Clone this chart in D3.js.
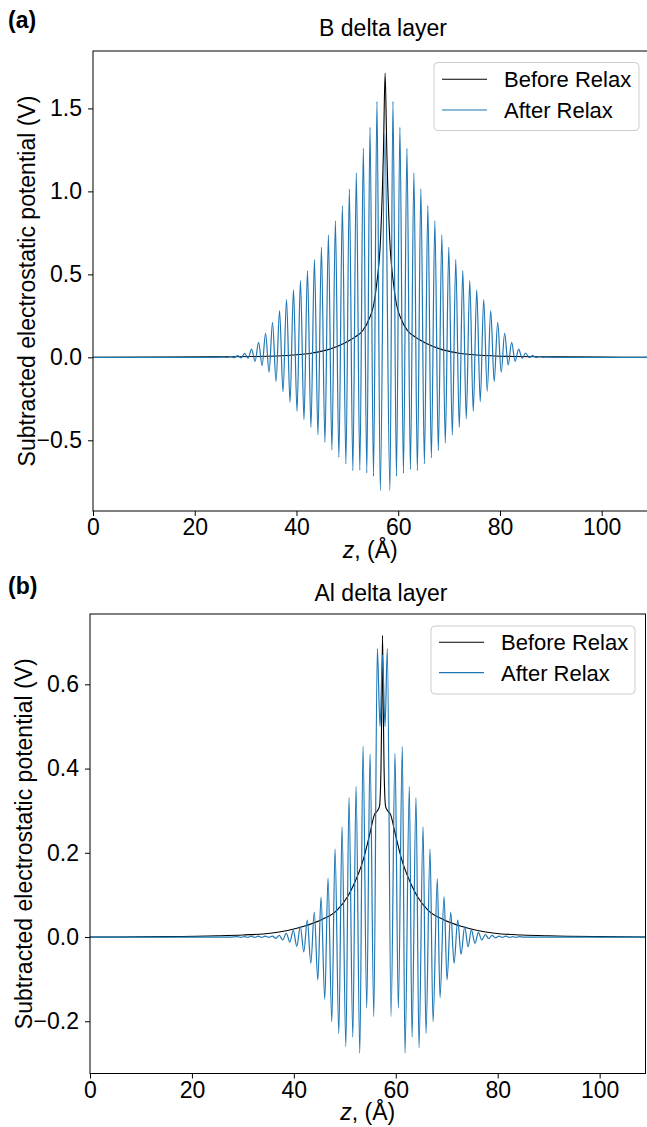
<!DOCTYPE html>
<html>
<head>
<meta charset="utf-8">
<script src="https://cdn.jsdelivr.net/npm/d3@7"></script>
<style>
  body { margin: 0; background: #fff; }
  svg text { font-family: "Liberation Sans", Arial, Helvetica, sans-serif; fill: #000; }
</style>
</head>
<body>
<svg id="fig" width="647" height="1127"></svg>
<script>
// ---------- data ----------
const zDomain = [0, 109];
const xTicks = [0, 20, 40, 60, 80, 100];
const yTicksB = [-0.5, 0.0, 0.5, 1.0, 1.5];
const yTicksAl = [-0.2, 0.0, 0.2, 0.4, 0.6];
const seriesNames = ["Before Relax", "After Relax"];

// B delta layer, before relaxation
const bBeforeZ = [0, 15, 25, 32, 39.4, 43.4, 46.4, 49.4, 51.4, 53.0, 54.4, 55.2, 55.8, 56.5, 57.1, 57.42,
  57.75, 58.35, 59.05, 59.65, 60.45, 61.85, 63.45, 65.45, 68.45, 71.45, 75.45, 82.8, 90, 100, 109];
const bBeforeV = [0, 0.001, 0.003, 0.005, 0.014, 0.028, 0.048, 0.085, 0.12, 0.16, 0.24, 0.32, 0.45, 0.70, 1.25, 1.713,
  1.25, 0.70, 0.45, 0.32, 0.24, 0.16, 0.12, 0.085, 0.048, 0.028, 0.014, 0.005, 0.003, 0.001, 0];

// B delta layer, after relaxation (successive extrema of the oscillation)
const bAfterZ = [0, 24.0, 25.69, 26.37, 27.06, 27.75, 28.43, 29.12, 29.80, 30.49, 31.18, 31.86, 32.55, 33.24,
  33.92, 34.61, 35.29, 35.98, 36.67, 37.35, 38.04, 38.73, 39.41, 40.10, 40.78, 41.47, 42.16, 42.84, 43.53,
  44.22, 44.90, 45.59, 46.27, 46.96, 47.65, 48.33, 49.02, 49.71, 50.39, 51.08, 51.76, 52.45, 53.14, 53.82,
  54.45, 55.14, 55.82, 56.47, 57.38, 58.37, 58.96, 59.65, 60.33, 61.02, 61.71, 62.39, 63.08, 63.76, 64.45,
  65.14, 65.82, 66.51, 67.20, 67.88, 68.57, 69.25, 69.94, 70.63, 71.31, 72.00, 72.69, 73.37, 74.06, 74.75,
  75.43, 76.12, 76.80, 77.49, 78.18, 78.86, 79.55, 80.24, 80.92, 81.61, 82.29, 82.98, 83.67, 84.35, 85.04,
  85.73, 86.41, 87.10, 87.75, 88.44, 89.12, 91, 109];
const bAfterV = [0, 0, 0.002, -0.001, 0.004, -0.002, 0.010, -0.003, 0.024, -0.006, 0.050, -0.024, 0.090, -0.050,
  0.145, -0.090, 0.211, -0.145, 0.281, -0.207, 0.348, -0.271, 0.408, -0.325, 0.462, -0.375, 0.522, -0.422, 0.589,
  -0.466, 0.663, -0.512, 0.737, -0.558, 0.823, -0.602, 0.914, -0.642, 1.014, -0.683, 1.111, -0.679, 1.259, -0.697,
  1.386, -0.717, 1.542, -0.803, 1.346, -0.803, 1.542, -0.717, 1.386, -0.699, 1.259, -0.677, 1.111, -0.682, 1.014,
  -0.642, 0.914, -0.606, 0.823, -0.562, 0.737, -0.516, 0.663, -0.468, 0.589, -0.422, 0.524, -0.371, 0.462, -0.325,
  0.408, -0.267, 0.348, -0.205, 0.281, -0.145, 0.211, -0.090, 0.145, -0.046, 0.090, -0.024, 0.050, -0.006, 0.026,
  -0.002, 0.010, -0.001, 0.004, 0, 0.002, 0, 0];

// Al delta layer, before relaxation
const alBeforeZ = [0, 15, 25, 30, 35.4, 41.8, 45.2, 48.5, 50.5, 51.7, 53.7, 55.0, 55.8, 56.4, 56.8, 57.1, 57.28, 57.4,
  57.52, 57.7, 58.0, 58.4, 59.0, 59.8, 61.1, 63.1, 64.3, 66.3, 69.6, 73.0, 79.4, 84.8, 90, 100, 109];
const alBeforeV = [0, 0.001, 0.003, 0.005, 0.009, 0.025, 0.040, 0.064, 0.095, 0.123, 0.187, 0.25, 0.29, 0.300, 0.31, 0.40, 0.58, 0.716,
  0.58, 0.40, 0.31, 0.300, 0.29, 0.25, 0.187, 0.123, 0.095, 0.064, 0.040, 0.025, 0.009, 0.005, 0.003, 0.001, 0];

// Al delta layer, after relaxation (successive extrema of the oscillation)
const alAfterZ = [0, 27.5, 28.9, 29.6, 30.3, 31.0, 31.6, 32.3, 33.0, 33.7, 34.4, 35.09, 35.78, 36.46, 37.15, 37.83,
  38.52, 39.21, 39.89, 40.58, 41.27, 41.95, 42.64, 43.33, 44.01, 44.70, 45.33, 46.07, 46.70, 47.45, 48.08, 48.82,
  49.45, 50.20, 50.82, 51.57, 52.20, 52.94, 53.57, 54.30, 54.95, 55.69, 56.38, 56.91, 57.40, 57.89, 58.34, 59.07,
  59.85, 60.50, 61.28, 61.81, 62.66, 63.19, 63.97, 64.56, 65.35, 65.93, 66.72, 67.31, 68.15, 68.68, 69.47, 70.06,
  70.78, 71.43, 72.16, 72.80, 73.53, 74.18, 74.83, 75.55, 76.20, 76.87, 77.58, 78.24, 78.89, 79.57, 80.26, 80.9,
  81.6, 82.3, 83.0, 83.6, 84.3, 85.0, 92, 109];
const alAfterV = [0, 0, 0.001, -0.001, 0.001, -0.001, 0.002, -0.001, 0.002, -0.001, 0.002, -0.001, 0.002, -0.003, 0.004, -0.007,
  0.009, -0.012, 0.016, -0.022, 0.025, -0.035, 0.040, -0.062, 0.059, -0.102, 0.095, -0.148, 0.140, -0.201, 0.209, -0.229,
  0.262, -0.260, 0.331, -0.238, 0.358, -0.276, 0.453, -0.169, 0.435, -0.189, 0.685, 0.50, 0.67, 0.50, 0.685, -0.189,
  0.436, -0.169, 0.453, -0.276, 0.358, -0.238, 0.331, -0.263, 0.262, -0.229, 0.209, -0.201, 0.139, -0.144, 0.096, -0.102,
  0.059, -0.062, 0.040, -0.041, 0.025, -0.023, 0.017, -0.015, 0.011, -0.007, 0.006, -0.004, 0.004, -0.002, 0.002, -0.001,
  0.002, -0.001, 0.001, -0.001, 0.001, 0, 0, 0];

// ---------- drawing ----------
const BLUE = "#1f77b4";
const FONT = 23;        // ticks, titles, axis labels
const LEGEND_FONT = 22;
const svg = d3.select("#fig");
const zip = (zs, vs) => zs.map((z, i) => [z, vs[i]]);

function drawPanel(cfg) {
  const x = d3.scaleLinear().domain(zDomain).range([cfg.left, cfg.right]);
  const y = d3.scaleLinear().domain(cfg.yDomain).range([cfg.bottom, cfg.top]);
  const g = svg.append("g");

  g.append("clipPath").attr("id", cfg.id + "-clip")
    .append("rect")
    .attr("x", cfg.left).attr("y", cfg.top)
    .attr("width", cfg.right - cfg.left).attr("height", cfg.bottom - cfg.top);

  const line = d3.line()
    .x(d => x(d[0])).y(d => y(d[1]))
    .curve(d3.curveMonotoneX);

  const plot = g.append("g").attr("clip-path", `url(#${cfg.id}-clip)`);
  plot.append("path")
    .datum(zip(cfg.beforeZ, cfg.beforeV))
    .attr("d", line).attr("fill", "none")
    .attr("stroke", "#000").attr("stroke-width", 1.1);
  plot.append("path")
    .datum(zip(cfg.afterZ, cfg.afterV))
    .attr("d", line).attr("fill", "none")
    .attr("stroke", BLUE).attr("stroke-width", 1.2)
    .attr("stroke-linejoin", "round");

  // axes
  const xAxis = d3.axisBottom(x).tickValues(xTicks).tickFormat(d3.format("d"))
    .tickSize(5).tickSizeOuter(0).tickPadding(3);
  const yAxis = d3.axisLeft(y).tickValues(cfg.yTicks).tickFormat(d3.format(".1f"))
    .tickSize(5).tickSizeOuter(0).tickPadding(6);

  const gx = g.append("g").attr("transform", `translate(0,${cfg.bottom})`).call(xAxis);
  const gy = g.append("g").attr("transform", `translate(${cfg.left},0)`).call(yAxis);
  [gx, gy].forEach(a => {
    a.attr("font-family", null).attr("font-size", null);
    a.selectAll("text").attr("font-size", FONT).attr("fill", "#000");
    a.selectAll("line").attr("stroke", "#000").attr("stroke-width", 1);
    a.select(".domain").remove();
  });

  // frame
  g.append("rect")
    .attr("x", cfg.left).attr("y", cfg.top)
    .attr("width", cfg.right - cfg.left).attr("height", cfg.bottom - cfg.top)
    .attr("fill", "none").attr("stroke", "#000").attr("stroke-width", 1);

  // title and panel letter
  g.append("text").attr("x", cfg.titleX).attr("y", cfg.titleY)
    .attr("text-anchor", "middle").attr("font-size", FONT).text(cfg.title);
  g.append("text").attr("x", 8).attr("y", cfg.letterY)
    .attr("font-size", 23).attr("font-weight", "bold").text(cfg.letter);

  // axis labels
  const xl = g.append("text")
    .attr("x", (cfg.left + cfg.right) / 2).attr("y", cfg.xLabelY)
    .attr("text-anchor", "middle").attr("font-size", FONT);
  xl.append("tspan").attr("font-style", "italic").text("z");
  xl.append("tspan").text(", (Å)");

  g.append("text")
    .attr("transform", `translate(${cfg.yLabelX},${(cfg.top + cfg.bottom) / 2}) rotate(-90)`)
    .attr("text-anchor", "middle").attr("font-size", FONT)
    .text("Subtracted electrostatic potential (V)");

  // legend
  const L = cfg.legend;
  const lg = g.append("g");
  lg.append("rect").attr("x", L.x).attr("y", L.y).attr("width", L.w).attr("height", L.h)
    .attr("rx", 4).attr("fill", "#fff").attr("fill-opacity", 0.8)
    .attr("stroke", "#cccccc").attr("stroke-width", 1);
  [["#000", 1.1], [BLUE, 1.2]].forEach((s, i) => {
    const ly = L.y + L.row0 + i * L.step;
    lg.append("line").attr("x1", L.x + 8).attr("x2", L.x + 53)
      .attr("y1", ly).attr("y2", ly)
      .attr("stroke", s[0]).attr("stroke-width", s[1]);
    lg.append("text").attr("x", L.x + 70).attr("y", ly + 8)
      .attr("font-size", LEGEND_FONT).text(seriesNames[i]);
  });
}

drawPanel({
  id: "pa", letter: "(a)", title: "B delta layer",
  left: 93, right: 647.5, top: 51, bottom: 511,
  yDomain: [-0.926, 1.846], yTicks: yTicksB,
  beforeZ: bBeforeZ, beforeV: bBeforeV, afterZ: bAfterZ, afterV: bAfterV,
  titleX: 383, titleY: 36, letterY: 28, xLabelY: 558, yLabelX: 35,
  legend: { x: 434, y: 62.5, w: 205, h: 68, row0: 16.8, step: 30.7 }
});

drawPanel({
  id: "pb", letter: "(b)", title: "Al delta layer",
  left: 90, right: 645.5, top: 614, bottom: 1073.5,
  yDomain: [-0.324, 0.767], yTicks: yTicksAl,
  beforeZ: alBeforeZ, beforeV: alBeforeV, afterZ: alAfterZ, afterV: alAfterV,
  titleX: 381, titleY: 601, letterY: 594, xLabelY: 1120, yLabelX: 32,
  legend: { x: 431, y: 626, w: 204, h: 68, row0: 16.3, step: 30.4 }
});
</script>
</body>
</html>
